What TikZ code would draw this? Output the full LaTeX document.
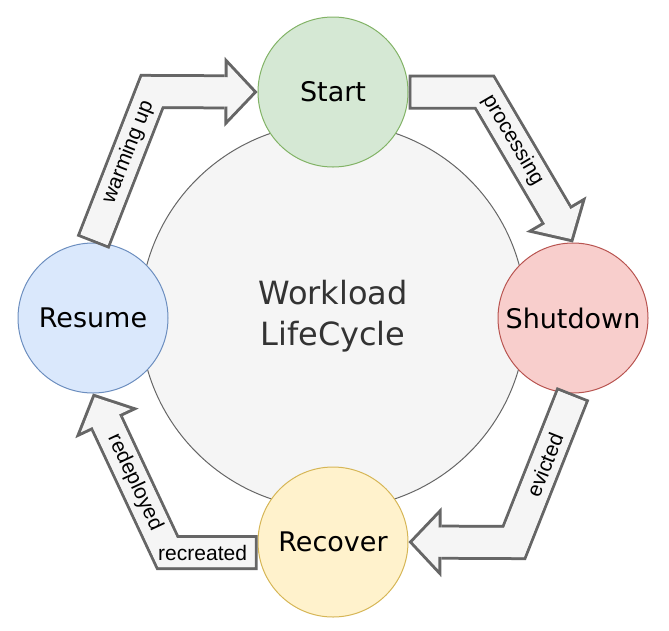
\documentclass[tikz,border=0pt]{standalone}
\usepackage{fontspec}
\setmainfont{DejaVu Sans}
\newfontfamily\lblfont{Liberation Sans}
\usetikzlibrary{arrows.meta}
\definecolor{cyclefill}{HTML}{F5F5F5}
\definecolor{cycleline}{HTML}{666666}
\definecolor{cycletext}{HTML}{333333}
\definecolor{startfill}{HTML}{D5E8D4}
\definecolor{startline}{HTML}{82B366}
\definecolor{shutfill}{HTML}{F8CECC}
\definecolor{shutline}{HTML}{B85450}
\definecolor{recofill}{HTML}{FFF2CC}
\definecolor{recoline}{HTML}{D6B656}
\definecolor{resufill}{HTML}{DAE8FC}
\definecolor{resuline}{HTML}{6C8EBF}
\definecolor{arrfill}{HTML}{F5F5F5}
\definecolor{arrline}{HTML}{666666}
\tikzset{
	phase/.style={circle,minimum size=150pt,inner sep=0pt,line width=1pt,font=\fontsize{27}{32}\selectfont},
	flexout/.style={line width=35pt,draw=arrline,-{Triangle[length=33pt,width=70pt,line width=0pt]}},
	flexin/.style={line width=29pt,draw=arrfill,shorten <=3pt,shorten >=4.1pt,-{Triangle[length=25.9pt,width=54.9pt,line width=0pt]},
		postaction={draw=arrfill,line width=29pt,shorten >=27pt,-}},
	lbl/.style={font=\lblfont\fontsize{21}{24}\selectfont,text=black,inner sep=0pt}
}
\begin{document}
\begin{tikzpicture}[x=1pt,y=-1pt,line join=miter]
			\useasboundingbox (0,0) rectangle (669,630);
			\node[circle,minimum size=386pt,inner sep=0pt,line width=1pt,draw=cycleline,fill=cyclefill,text=cycletext,align=center,font=\fontsize{32}{41}\selectfont] (cycle) at (333,316) {Workload\\LifeCycle};
			\node[phase,draw=startline,fill=startfill] (start) at (333,92) {Start};
			\node[phase,draw=shutline,fill=shutfill] (shutdown) at (573,318) {Shutdown};
			\node[phase,draw=recoline,fill=recofill] (recover) at (333,542) {Recover};
			\node[phase,draw=resuline,fill=resufill] (resume) at (93,318) {Resume};
			% resume -> start
			\draw[flexout] (resume.north) -- ++(59,-151) -- (start.west);
			\draw[flexin] (resume.north) -- node[lbl,sloped,pos=.6]{warming up} ++(59,-151) -- (start.west);
			% start -> shutdown
			\draw[flexout] (start.east) -- ++(76,0) -- (shutdown.north);
			\draw[flexin] (start.east) -- ++(76,0) -- node[lbl,sloped,pos=.32]{processing} (shutdown.north);
			% shutdown -> recover
			\draw[flexout] (shutdown.south) -- ++(-59,149) -- (recover.east);
			\draw[flexin] (shutdown.south) -- node[lbl,sloped,pos=.48]{evicted} ++(-59,149) -- (recover.east);
			% recover -> resume
			\draw[flexout] ([yshift=-10.5pt]recover.west) -- ++(-90,0) -- (resume.south);
			\draw[flexin] ([yshift=-10.5pt]recover.west) -- node[lbl,pos=.61]{recreated} ++(-90,0) -- node[lbl,sloped,pos=.44]{redeployed} (resume.south);
\end{tikzpicture}
\end{document}
